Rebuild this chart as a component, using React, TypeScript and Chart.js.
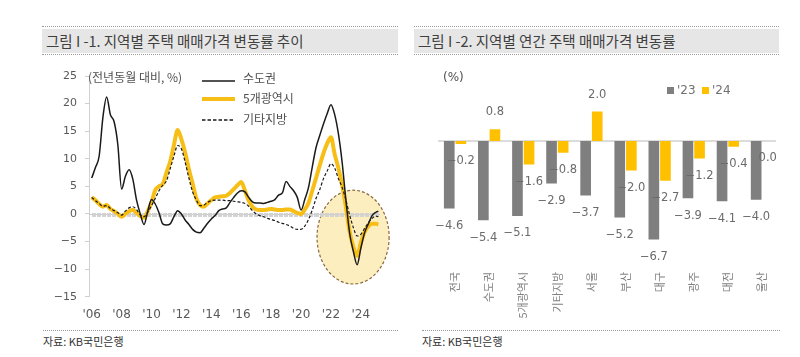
import React, { useEffect, useRef } from "react";
import { Chart, registerables } from "chart.js";

Chart.register(...registerables);

// ---------- Left chart data (전년동월 대비, %) ----------
const YEARS = [
  2006, 2006.25, 2006.5, 2006.75,
  2007, 2007.25, 2007.5, 2007.75,
  2008, 2008.25, 2008.5, 2008.75,
  2009, 2009.25, 2009.5, 2009.75,
  2010, 2010.25, 2010.5, 2010.75,
  2011, 2011.25, 2011.5, 2011.75,
  2012, 2012.25, 2012.5, 2012.75,
  2013, 2013.25, 2013.5, 2013.75,
  2014, 2014.25, 2014.5, 2014.75,
  2015, 2015.25, 2015.5, 2015.75,
  2016, 2016.25, 2016.5, 2016.75,
  2017, 2017.25, 2017.5, 2017.75,
  2018, 2018.25, 2018.5, 2018.75,
  2019, 2019.25, 2019.5, 2019.75,
  2020, 2020.25, 2020.5, 2020.75,
  2021, 2021.25, 2021.5, 2021.75,
  2022, 2022.25, 2022.5, 2022.75,
  2023, 2023.25, 2023.5, 2023.75,
  2024, 2024.25, 2024.5, 2024.75,
  2025, 2025.17,
];

// 수도권
const CAPITAL = [
  6.5, 8.4, 10.5, 17.5,
  21.2, 18.0, 16.7, 12.5,
  4.5, 6.8, 8.0, 6.3,
  2.5, 0.0, -1.9, 0.5,
  2.6, 1.8, 0.2, -1.8,
  -2.0, -1.8, -0.5, 0.6,
  0.0, -1.1, -1.9, -2.8,
  -3.3, -3.4, -2.6, -1.7,
  -0.9, -0.3, 0.6, 0.9,
  1.1, 2.1, 3.0, 3.8,
  4.2, 4.0, 3.0, 2.2,
  2.0, 2.0, 1.9, 2.1,
  2.3, 2.6, 3.4, 3.8,
  5.9, 5.0, 4.2, 3.0,
  0.7, 2.6, 4.8, 8.5,
  12.0, 14.2, 16.3, 18.2,
  19.8, 18.0, 14.5, 9.3,
  2.5, -3.5, -6.8, -9.2,
  -6.2, -3.4, -1.8, -0.3,
  0.3, 0.5,
];

// 5개광역시
const METRO5 = [
  3.0, 2.5, 1.8, 1.3,
  1.6, 0.9, 0.5, 0.0,
  -0.5, 0.0, 0.5, 0.7,
  0.2, -0.4, -0.7, 0.5,
  2.1, 4.3, 5.0, 5.4,
  7.5, 9.5, 12.5, 15.2,
  13.5, 11.1, 8.1, 5.5,
  2.8, 1.6, 1.3, 1.9,
  2.5, 3.0, 3.1, 3.2,
  3.3, 3.8, 4.5, 5.2,
  5.8, 4.2, 2.4, 1.3,
  0.8, 0.7, 0.7, 0.8,
  0.9, 0.8, 0.7, 0.7,
  0.8, 0.8, 0.5, 0.2,
  0.0, 0.8, 2.0, 4.2,
  6.5, 8.8, 11.0, 12.8,
  13.9, 10.8, 8.3, 5.2,
  1.2, -3.2, -6.0, -7.6,
  -5.2, -3.3, -2.2, -1.8,
  -1.8, -1.9,
];

// 기타지방
const OTHER = [
  3.0, 2.4, 1.9, 1.4,
  1.5, 1.0, 0.6, 0.2,
  -0.2, 0.5, 1.1, 1.3,
  0.8, -0.2, -0.5, 0.3,
  1.5, 2.8, 4.2, 5.2,
  6.0, 8.2, 10.5, 12.4,
  11.8, 9.4, 6.5, 4.0,
  2.5, 1.5, 1.6, 2.1,
  2.4, 2.5, 2.5, 2.5,
  2.4, 2.4, 2.3, 2.2,
  2.1, 1.9, 1.4, 0.6,
  0.0, -0.3, -0.5, -0.8,
  -1.0, -1.2, -1.5, -1.7,
  -1.9, -2.2, -2.6, -2.8,
  -2.8, -2.2, -1.0, 0.7,
  2.8, 4.4, 6.4, 7.8,
  9.1, 8.3, 6.4, 4.8,
  2.5, -0.2, -2.5, -4.0,
  -3.7, -2.6, -1.6, -0.8,
  -0.4, -0.5,
];

const LINE_LABELS = ["수도권", "5개광역시", "기타지방"];
const X_TICK_YEARS = [2006, 2008, 2010, 2012, 2014, 2016, 2018, 2020, 2022, 2024];
const Y_MIN = -15;
const Y_MAX = 25;
const Y_STEP = 5;
// highlighted period (data units)
const HIGHLIGHT = { year: 2023.48, value: -4.2, rYears: 2.41, rValue: 8.5 };

// ---------- Right chart data (%) ----------
const REGIONS = ["전국", "수도권", "5개광역시", "기타지방", "서울", "부산", "대구", "광주", "대전", "울산"];
const Y2023 = [-4.6, -5.4, -5.1, -2.9, -3.7, -5.2, -6.7, -3.9, -4.1, -4.0];
const Y2024 = [-0.2, 0.8, -1.6, -0.8, 2.0, -2.0, -2.7, -1.2, -0.4, 0.0];
const BAR_SERIES = ["'23", "'24"];

const NUM_FONT = '"DejaVu Sans", "Noto Sans CJK KR", sans-serif';
const KR_FONT = '"Noto Sans CJK KR", "Noto Sans", sans-serif';

const BLACK = "#1a1a1a";
const YELLOW = "#F7BE16";
const GRAY_BAR = "#7f7f7f";
const YELLOW_BAR = "#FFC000";

const fmtMinus = (s: string) => s.replace("-", "−");

function LineChart() {
  const ref = useRef<HTMLCanvasElement | null>(null);
  useEffect(() => {
    if (!ref.current) return;
    const decor = {
      id: "decor",
      beforeDatasetsDraw(chart: any) {
        const { ctx, chartArea, scales } = chart;
        const x = scales.x;
        const y = scales.y;
        ctx.save();
        // highlight ellipse
        const cx = x.getPixelForValue(HIGHLIGHT.year);
        const cy = y.getPixelForValue(HIGHLIGHT.value);
        const rx = Math.abs(x.getPixelForValue(HIGHLIGHT.year + HIGHLIGHT.rYears) - cx);
        const ry = Math.abs(y.getPixelForValue(HIGHLIGHT.value + HIGHLIGHT.rValue) - cy);
        ctx.beginPath();
        ctx.ellipse(cx, cy, rx, ry, 0, 0, Math.PI * 2);
        ctx.fillStyle = "rgba(252, 226, 150, 0.6)";
        ctx.fill();
        ctx.setLineDash([3, 2]);
        ctx.strokeStyle = "#8a6a3c";
        ctx.lineWidth = 1.2;
        ctx.stroke();
        ctx.setLineDash([]);
        // zero line with monthly ticks
        const y0 = y.getPixelForValue(0);
        ctx.strokeStyle = "#c4c4c4";
        ctx.lineWidth = 1;
        ctx.beginPath();
        ctx.moveTo(chartArea.left, y0 + 0.5);
        ctx.lineTo(chartArea.right, y0 + 0.5);
        ctx.stroke();
        ctx.strokeStyle = "#d2d2d2";
        ctx.beginPath();
        for (let m = 0; m <= 230; m++) {
          const px = Math.round(x.getPixelForValue(2006 + m / 12)) + 0.5;
          if (px > chartArea.right) break;
          ctx.moveTo(px, y0 - 1);
          ctx.lineTo(px, y0 + 3);
        }
        ctx.stroke();
        ctx.restore();
      },
    };
    const mk = (vals: number[]) => YEARS.map((x, i) => ({ x, y: vals[i] }));
    const chart = new Chart(ref.current, {
      type: "line",
      data: {
        datasets: [
          {
            label: LINE_LABELS[0],
            data: mk(CAPITAL),
            borderColor: BLACK,
            borderWidth: 1.5,
            pointRadius: 0,
            cubicInterpolationMode: "monotone",
            order: 1,
          },
          {
            label: LINE_LABELS[2],
            data: mk(OTHER),
            borderColor: BLACK,
            borderWidth: 1.2,
            borderDash: [3, 2],
            pointRadius: 0,
            cubicInterpolationMode: "monotone",
            order: 2,
          },
          {
            label: LINE_LABELS[1],
            data: mk(METRO5),
            borderColor: YELLOW,
            borderWidth: 4,
            pointRadius: 0,
            cubicInterpolationMode: "monotone",
            order: 3,
          },
        ],
      } as any,
      options: {
        animation: false,
        responsive: false,
        layout: { padding: { top: 16, right: 20, left: 0, bottom: 0 } },
        plugins: { legend: { display: false }, tooltip: { enabled: false } },
        scales: {
          x: {
            type: "linear",
            min: 2005.82,
            max: 2025.28,
            afterBuildTicks: (s: any) => {
              s.ticks = X_TICK_YEARS.map((v) => ({ value: v }));
            },
            afterFit: (s: any) => {
              s.height = 33.3;
            },
            ticks: {
              autoSkip: false,
              maxRotation: 0,
              padding: 11,
              color: "#595959",
              font: { family: NUM_FONT, size: 12 },
              callback: (v: any) => "'" + String(v).slice(2),
            },
            grid: { display: false, drawTicks: false },
            border: { display: false },
          },
          y: {
            min: Y_MIN,
            max: Y_MAX,
            afterFit: (s: any) => {
              s.width = 49;
            },
            ticks: {
              stepSize: Y_STEP,
              padding: 8,
              color: "#595959",
              font: { family: NUM_FONT, size: 11 },
              callback: (v: any) => fmtMinus(String(v)),
            },
            grid: { drawOnChartArea: false, tickLength: 4, color: "#d0d0d0" },
            border: { color: "#d0d0d0" },
          },
        },
      } as any,
      plugins: [decor],
    });
    return () => chart.destroy();
  }, []);
  return <canvas ref={ref} width={360} height={270} style={{ position: "absolute", left: 40, top: 60, width: 360, height: 270 }} />;
}

function BarChart() {
  const ref = useRef<HTMLCanvasElement | null>(null);
  useEffect(() => {
    if (!ref.current) return;
    const decor = {
      id: "barDecor",
      beforeDatasetsDraw(chart: any) {
        const { ctx, chartArea, scales } = chart;
        const y0 = scales.y.getPixelForValue(0);
        ctx.save();
        ctx.strokeStyle = "#d0d0d0";
        ctx.lineWidth = 1.5;
        ctx.beginPath();
        ctx.moveTo(chartArea.left, y0);
        ctx.lineTo(chartArea.right - 3, y0);
        ctx.stroke();
        ctx.restore();
      },
      afterDatasetsDraw(chart: any) {
        const { ctx } = chart;
        ctx.save();
        ctx.font = `11.5px ${NUM_FONT}`;
        ctx.fillStyle = "#6b6b6b";
        ctx.textAlign = "center";
        ctx.textBaseline = "middle";
        chart.data.datasets.forEach((ds: any, di: number) => {
          const meta = chart.getDatasetMeta(di);
          meta.data.forEach((el: any, i: number) => {
            const v = ds.data[i];
            const ty = v > 0 ? el.y - 17 : el.y + 17.5;
            ctx.fillText(fmtMinus(v.toFixed(1)), el.x, ty);
          });
        });
        ctx.restore();
      },
    };
    const chart = new Chart(ref.current, {
      type: "bar",
      data: {
        labels: REGIONS,
        datasets: [
          { label: BAR_SERIES[0], data: Y2023, backgroundColor: GRAY_BAR, categoryPercentage: 0.68, barPercentage: 0.92 },
          { label: BAR_SERIES[1], data: Y2024, backgroundColor: YELLOW_BAR, categoryPercentage: 0.68, barPercentage: 0.92 },
        ],
      },
      options: {
        animation: false,
        responsive: false,
        layout: { padding: { top: 29.5, left: 18, right: 11, bottom: 0 } },
        plugins: { legend: { display: false }, tooltip: { enabled: false } },
        scales: {
          x: {
            afterFit: (s: any) => {
              s.height = 61.1;
            },
            ticks: {
              autoSkip: false,
              minRotation: 90,
              maxRotation: 90,
              padding: 3,
              color: "#808080",
              font: { family: KR_FONT, size: 11 },
            },
            grid: { display: false, drawTicks: false },
            border: { display: false },
          },
          y: { display: false, min: -8.7, max: 3.5 },
        },
      } as any,
      plugins: [decor],
    });
    return () => chart.destroy();
  }, []);
  return <canvas ref={ref} width={370} height={270} style={{ position: "absolute", left: 420, top: 60, width: 370, height: 270 }} />;
}

function TitleBar({ left, width, text }: { left: number; width: number; text: string }) {
  return (
    <div style={{ position: "absolute", left, top: 26, width, height: 29, borderTop: "1px dotted #9a9a9a", borderBottom: "1px dotted #9a9a9a", boxSizing: "border-box", paddingTop: 2 }}>
      <div style={{ background: "#e6e6e6", height: 24, lineHeight: "24px", paddingLeft: 4, fontFamily: KR_FONT, fontSize: 14.5, color: "#404040", whiteSpace: "nowrap" }}>{text}</div>
    </div>
  );
}

function Source({ left, width }: { left: number; width: number }) {
  return (
    <>
      <div style={{ position: "absolute", left, top: 330, width, borderTop: "1px dotted #9a9a9a" }} />
      <div style={{ position: "absolute", left, top: 333, fontFamily: KR_FONT, fontSize: 11, lineHeight: "16px", color: "#333" }}>자료: KB국민은행</div>
    </>
  );
}

function LineLegend() {
  const rows = [
    { label: LINE_LABELS[0], y: 78, color: BLACK, w: 1.5, dash: undefined as string | undefined, ly: 80.5 },
    { label: LINE_LABELS[1], y: 98, color: YELLOW, w: 4, dash: undefined, ly: 99 },
    { label: LINE_LABELS[2], y: 119, color: BLACK, w: 1.3, dash: "3.5 2", ly: 120 },
  ];
  return (
    <>
      <div style={{ position: "absolute", left: 88, top: 69, fontFamily: KR_FONT, fontSize: 12, lineHeight: "16px", color: "#505050", whiteSpace: "nowrap" }}>(전년동월 대비, %)</div>
      {rows.map((r) => (
        <React.Fragment key={r.label}>
          <svg style={{ position: "absolute", left: 202, top: r.ly - 3 }} width={34} height={6}>
            <line x1={0} y1={3} x2={33} y2={3} stroke={r.color} strokeWidth={r.w} strokeDasharray={r.dash} />
          </svg>
          <div style={{ position: "absolute", left: 243, top: r.y - 8, fontFamily: KR_FONT, fontSize: 12, lineHeight: "16px", color: "#505050", whiteSpace: "nowrap" }}>{r.label}</div>
        </React.Fragment>
      ))}
    </>
  );
}

function BarLegend() {
  const txt = { position: "absolute" as const, top: 82, fontFamily: NUM_FONT, fontSize: 12, lineHeight: "16px", color: "#707070" };
  return (
    <>
      <div style={{ position: "absolute", left: 443, top: 69, fontFamily: NUM_FONT, fontSize: 12, lineHeight: "16px", color: "#505050" }}>(%)</div>
      <div style={{ position: "absolute", left: 667, top: 86.5, width: 7, height: 7, background: GRAY_BAR }} />
      <div style={{ ...txt, left: 677 }}>{BAR_SERIES[0]}</div>
      <div style={{ position: "absolute", left: 702, top: 86.5, width: 7, height: 7, background: YELLOW_BAR }} />
      <div style={{ ...txt, left: 712 }}>{BAR_SERIES[1]}</div>
    </>
  );
}

export default function App() {
  return (
    <div style={{ position: "absolute", left: 0, top: 0, width: 800, height: 357, background: "#fff", overflow: "hidden" }}>
      <TitleBar left={42} width={356} text="그림 I -1. 지역별 주택 매매가격 변동률 추이" />
      <TitleBar left={414} width={365} text="그림 I -2. 지역별 연간 주택 매매가격 변동률" />
      <LineChart />
      <LineLegend />
      <BarChart />
      <BarLegend />
      <Source left={43} width={355} />
      <Source left={422} width={358} />
    </div>
  );
}
